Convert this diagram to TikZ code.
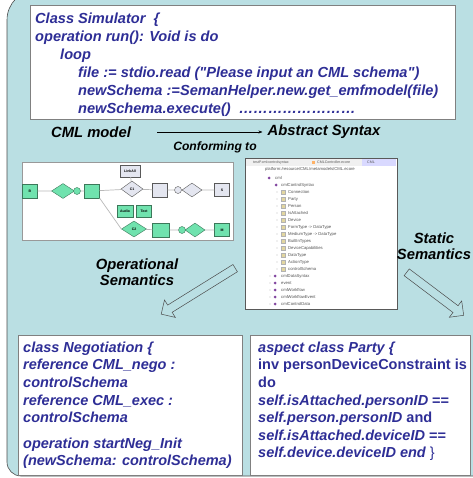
\documentclass[tikz,border=0pt]{standalone}
\usepackage{fontspec}
\setmainfont{Liberation Sans}
\usepackage{xcolor}
\usetikzlibrary{arrows.meta,positioning,calc,shapes.geometric,shapes.arrows}

\definecolor{panelbg}{RGB}{186,223,227}
\definecolor{codeblue}{RGB}{46,46,150}
\definecolor{mint}{RGB}{112,226,174}
\definecolor{mintline}{RGB}{60,120,90}
\definecolor{paleblue}{RGB}{228,230,240}
\definecolor{classtan}{RGB}{226,214,160}
\definecolor{pkgviolet}{RGB}{130,70,160}

\begin{document}
\begin{tikzpicture}[
  x=1pt,
  y=-1pt,
  >={Stealth[length=4pt,width=3pt]},
  panel/.style={draw=gray!60!black,fill=panelbg,line width=.6pt},
  codebox/.style={draw=gray,fill=white,line width=.8pt,anchor=north west,inner sep=0pt},
  codetext/.style={anchor=north west,inner sep=0pt,align=left,text=codeblue,
    font=\fontsize{14.6}{17.9}\selectfont\bfseries\itshape},
  boxtext/.style={anchor=north west,inner sep=0pt,align=left,text=codeblue,
    font=\fontsize{14.5}{17.6}\selectfont\bfseries\itshape},
  caption/.style={font=\fontsize{14.8}{16.5}\selectfont\bfseries\itshape,align=center,inner sep=0pt},
  smallcap/.style={font=\fontsize{12.1}{14}\selectfont\bfseries\itshape,inner sep=0pt},
  conform/.style={->,line width=.5pt},
  shot/.style={draw=gray!80,fill=white,line width=.8pt,inner sep=0pt,anchor=north west},
  gbox/.style={draw=mintline,fill=mint,minimum width=15pt,minimum height=14pt,inner sep=0pt,
    font=\fontsize{3.5}{4}\selectfont\bfseries},
  gdia/.style={diamond,draw=mintline,fill=mint,minimum width=23pt,minimum height=15pt,inner sep=0pt,
    font=\fontsize{3.5}{4}\selectfont\bfseries},
  greybox/.style={gbox,draw=gray!70!black,fill=paleblue},
  greydia/.style={gdia,draw=gray!70!black,fill=paleblue},
  ring/.style={circle,draw=mintline,fill=mint,minimum size=7pt,inner sep=0pt},
  greyring/.style={ring,draw=gray!70!black,fill=paleblue},
  edge/.style={draw=gray!55,line width=.7pt},
  treeitem/.style={anchor=west,inner sep=0pt,text=gray!65!black,font=\fontsize{4.2}{5}\selectfont},
  tabtext/.style={anchor=west,inner sep=0pt,text=gray!70!black,font=\fontsize{3.6}{4}\selectfont},
  classicon/.style={draw=gray!60,fill=classtan,minimum size=4pt,inner sep=0pt},
  pkgicon/.style={circle,fill=pkgviolet,minimum size=3pt,inner sep=0pt},
  hollow/.style={single arrow,draw=gray!60!black,line width=.5pt,minimum width=20pt,
    single arrow head extend=6pt,single arrow head indent=0pt,inner xsep=0pt,inner ysep=4pt,
    text height=0pt,text depth=0pt}
]
\useasboundingbox (0,0) rectangle (472,478);

% teal panel
\draw[panel] (520,476) [rounded corners=14pt] -- (7,476) [rounded corners=30pt] -- (7,-10) -- (520,-10);

% simulator code
\node[codebox,minimum width=425pt,minimum height=114pt] (simbox) at (30,5) {};
\node[codetext] (simcode) at (35,13)
  {Class Simulator\ \ \{\\
   operation run(): Void is do\\
   \hspace*{25pt}loop\\
   \hspace*{43pt}file := stdio.read (\textquotedbl Please input an CML schema\textquotedbl)\\
   \hspace*{43pt}newSchema :=SemanHelper.new.get\_emfmodel(file)\\
   \hspace*{43pt}newSchema.execute()\ \ ……………………};

\node[caption] (cmlmodel) at (91,132) {CML model};
\node[caption] (abstract) at (324,132) {Abstract Syntax};
\node[smallcap] (conformto) at (215,147) {Conforming to};
\draw[conform] ([xshift=26pt]cmlmodel.east) -- ([xshift=-5pt]abstract.west);

% workflow screenshot
\node[shot,minimum width=211pt,minimum height=78pt] (flowshot) at (22,162) {};
\node[gbox] (b) at (30,191) {B};
\node[gdia] (d1) at (63,191) {};
\node[ring] (r1) at (77,191) {};
\node[gbox] (q1) at (92,191) {};
\node[greybox,minimum width=20pt,minimum height=12pt] (linkall) at (130,171) {LinkAll};
\node[greydia,minimum width=22pt,minimum height=16pt] (c1) at (132,189) {C1};
\node[greybox] (q2) at (160,190) {};
\node[greyring] (r2) at (178,190) {};
\node[greydia,minimum width=20pt,minimum height=14pt] (d2) at (192,190) {};
\node[greybox,minimum height=13pt] (s) at (222,190) {S};
\node[gbox,minimum width=16pt,minimum height=12pt] (audio) at (125,211) {Audio};
\node[gbox,minimum height=12pt] (txt) at (144,211) {Text};
\node[gdia,minimum width=25pt,minimum height=16pt] (c2) at (134,229) {C2};
\node[gbox,minimum width=17pt] (q3) at (161,230) {};
\node[ring] (r3) at (182,230) {};
\node[gdia,minimum width=20pt,minimum height=14pt] (d3) at (195,230) {};
\node[gbox,minimum height=13pt] (m) at (222,230) {M};
\draw[edge] (b) -- (d1) (r1) -- (q1) (q1) -- (c1) (q1.south east) -- (c2.west)
  (linkall) -- (c1) (c1) -- (q2) (q2) -- (r2) (d2) -- (s)
  (c2) -- (q3) (q3) -- (r3) (d3) -- (m);

% tree view screenshot
\node[shot,draw=gray!70!black,minimum width=152pt,minimum height=151pt] (treeshot) at (245,158) {};
\fill[gray!12] (246,159) rectangle (396,166);
\node[tabtext] (tab1) at (253,162.5) {testP.cmlcontrolsyntax};
\fill[orange!60] (312,161) rectangle (315,164);
\node[tabtext] (tab2) at (317,162.5) {CMLController.ecore};
\fill[blue!15] (362,159) rectangle (396,166);
\node[tabtext] (tab3) at (367,162.5) {CML};
\node[treeitem] (platform) at (265,169) {platform:/resource/CML/metamodels/CML.ecore};
\node[treeitem] (cml) at (275,178) {cml};
\node[pkgicon] at (269,178) {};
\node[treeitem] (ctrlsyntax) at (281,185) {cmlControlSyntax};
\node[pkgicon] at (276,185) {};
\foreach \leaf [count=\i] in {Connection,Party,Person,IsAttached,Device,
    FormType -> DataType,MediumType -> DataType,BuiltInTypes,DeviceCapabilities,
    DataType,ActionType,controlSchema}
  {\node[treeitem] at (288,{185+7*\i}) {\leaf};
   \node[classicon] at (283,{185+7*\i}) {};
   \fill[gray!50] (277,{185+7*\i}) circle (.7);}
\foreach \pkg [count=\i] in {cmlDataSyntax,event,cmlWorkflow,cmlWorkflowEvent,cmlControlData}
  {\node[treeitem] at (281,{269+7*\i}) {\pkg};
   \node[pkgicon] at (275,{269+7*\i}) {};
   \fill[gray!50] (270,{269+7*\i}) circle (.7);}

% semantics
\node[caption] (opsem) at (137,272) {Operational\\Semantics};
\node[caption] (statsem) at (434,246) {Static\\Semantics};
\coordinate (opfrom) at (237,267);
\coordinate (opto) at (163,313);
\coordinate (stfrom) at (405,271);
\coordinate (stto) at (462,314);
\path let \p1=($(opto)-(opfrom)$), \n1={atan2(\y1,\x1)}, \n2={veclen(\x1,\y1)} in
  node[hollow,rotate=\n1,minimum height=\n2] (oparrow) at ($(opfrom)!.5!(opto)$) {};
\path let \p1=($(stto)-(stfrom)$), \n1={atan2(\y1,\x1)}, \n2={veclen(\x1,\y1)} in
  node[hollow,rotate=\n1,minimum height=\n2] (starrow) at ($(stfrom)!.5!(stto)$) {};

% negotiation and party code
\node[codebox,minimum width=224pt,minimum height=140pt] (negbox) at (18,335) {};
\node[boxtext] (negcode) at (23,341.5)
  {class Negotiation \{\\
   reference CML\_nego :\\
   controlSchema\\
   reference CML\_exec :\\
   controlSchema\\[8pt]
   operation startNeg\_Init\\
   (newSchema: controlSchema)};
\node[codebox,minimum width=220pt,minimum height=140pt] (partybox) at (250,335) {};
\node[boxtext] (partycode) at (258,341.5)
  {aspect class Party \{\\
   {\upshape inv personDeviceConstraint is}\\
   {\upshape do}\\
   self.isAttached.personID {\upshape==}\\
   self.person.personID {\upshape and}\\
   self.isAttached.deviceID {\upshape==}\\
   self.device.deviceID end {\upshape\mdseries\}}};

\end{tikzpicture}
\end{document}
